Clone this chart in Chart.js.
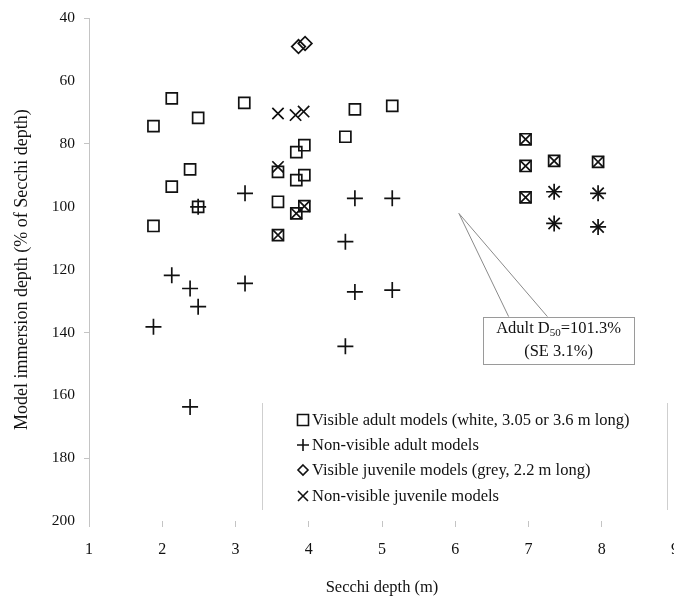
<!DOCTYPE html>
<html>
<head>
<meta charset="utf-8">
<script src="https://cdn.jsdelivr.net/npm/chart.js@4/dist/chart.umd.min.js"></script>
<style>
  html, body { margin: 0; padding: 0; background: #fff; overflow: hidden; }
  #wrap { width: 700px; height: 596px; }
</style>
</head>
<body>
<div id="wrap"><canvas id="chart" width="700" height="596"></canvas></div>
<script>
"use strict";

// Secchi depth (m) vs model immersion depth (% of Secchi depth)
const visibleAdultX = [1.88, 1.88, 2.13, 2.13, 2.38, 2.49, 2.49, 3.12, 3.58, 3.58, 3.58, 3.83, 3.94, 3.83, 3.94, 3.83, 3.94, 4.50, 4.63, 5.14, 6.96, 6.96, 6.96, 7.35, 7.95];
const visibleAdultY = [74.3, 106.1, 65.5, 93.6, 88.1, 71.7, 100.0, 66.9, 88.9, 98.4, 109.0, 82.6, 80.4, 91.5, 89.9, 102.1, 99.8, 77.7, 69.0, 67.9, 78.5, 87.0, 97.0, 85.4, 85.7];

const nonVisibleAdultX = [2.49, 3.13, 4.63, 5.14, 4.50, 2.13, 2.38, 3.13, 2.49, 1.88, 4.63, 5.14, 4.50, 2.38, 7.35, 7.95, 7.35, 7.95];
const nonVisibleAdultY = [100.0, 95.7, 97.3, 97.3, 111.1, 121.8, 126.0, 124.4, 131.8, 138.2, 127.1, 126.5, 144.4, 163.7, 95.2, 95.7, 105.3, 106.4];

const visibleJuvenileX = [3.86, 3.95];
const visibleJuvenileY = [49.0, 48.0];

const nonVisibleJuvenileX = [3.58, 3.82, 3.93, 3.58, 3.58, 3.83, 3.94, 6.96, 6.96, 6.96, 7.35, 7.95, 7.35, 7.95, 7.35, 7.95];
const nonVisibleJuvenileY = [70.3, 70.8, 69.7, 87.3, 109.0, 102.1, 99.8, 78.5, 87.0, 97.0, 85.4, 85.7, 95.2, 95.7, 105.3, 106.4];

const seriesLabels = [
  "Visible adult models (white, 3.05 or 3.6 m long)",
  "Non-visible adult models",
  "Visible juvenile models (grey, 2.2 m long)",
  "Non-visible juvenile models",
];
const seriesStyles = ["rect", "cross", "rectRot", "crossRot"];

const xTitle = "Secchi depth (m)";
const yTitle = "Model immersion depth (% of Secchi depth)";
const calloutLine1 = ["Adult D", "50", "=101.3%"];
const calloutLine2 = "(SE 3.1%)";
// callout pointer tip and box, in data units
const calloutTip = [6.05, 102.1];
const calloutBox = { x0: 6.38, x1: 8.44, y0: 135.0, y1: 150.1, base0: 6.73, base1: 7.26 };

const SERIF = "'Liberation Serif', 'Times New Roman', serif";
const AXIS_GREY = "#c4c4c4";

const pts = (xs, ys) => xs.map((x, i) => ({ x, y: ys[i] }));

function legendIcon(ctx, style, x, y) {
  ctx.beginPath();
  if (style === "rect") {
    ctx.rect(x - 5.5, y - 5.5, 11, 11);
  } else if (style === "cross") {
    ctx.moveTo(x - 6, y); ctx.lineTo(x + 6, y);
    ctx.moveTo(x, y - 6); ctx.lineTo(x, y + 6);
  } else if (style === "rectRot") {
    ctx.moveTo(x, y - 5); ctx.lineTo(x + 5, y); ctx.lineTo(x, y + 5); ctx.lineTo(x - 5, y); ctx.closePath();
  } else {
    ctx.moveTo(x - 5, y - 5); ctx.lineTo(x + 5, y + 5);
    ctx.moveTo(x + 5, y - 5); ctx.lineTo(x - 5, y + 5);
  }
  ctx.stroke();
}

// callout + in-plot legend
const overlay = {
  id: "overlay",
  afterDraw(chart) {
    const { ctx, scales: { x, y } } = chart;
    ctx.save();

    // callout pointer
    const tx = x.getPixelForValue(calloutTip[0]), ty = y.getPixelForValue(calloutTip[1]);
    const bx0 = x.getPixelForValue(calloutBox.x0), bx1 = x.getPixelForValue(calloutBox.x1);
    const by0 = y.getPixelForValue(calloutBox.y0), by1 = y.getPixelForValue(calloutBox.y1);
    ctx.strokeStyle = "#8a8a8a"; ctx.lineWidth = 1;
    ctx.beginPath();
    ctx.moveTo(x.getPixelForValue(calloutBox.base0), by0); ctx.lineTo(tx, ty);
    ctx.lineTo(x.getPixelForValue(calloutBox.base1), by0);
    ctx.stroke();
    ctx.fillStyle = "#fff";
    ctx.fillRect(bx0, by0, bx1 - bx0, by1 - by0);
    ctx.strokeStyle = "#9a9a9a";
    ctx.strokeRect(Math.round(bx0) + 0.5, Math.round(by0) + 0.5, Math.round(bx1 - bx0), Math.round(by1 - by0));

    // callout text (with subscript)
    ctx.fillStyle = "#111"; ctx.textBaseline = "middle";
    const big = "16.5px " + SERIF, small = "11px " + SERIF;
    ctx.font = big; const w0 = ctx.measureText(calloutLine1[0]).width, w2 = ctx.measureText(calloutLine1[2]).width;
    ctx.font = small; const w1 = ctx.measureText(calloutLine1[1]).width;
    const cx = (bx0 + bx1) / 2;
    let sx = cx - (w0 + w1 + w2) / 2;
    const l1 = by0 + 12, l2 = by0 + 35;
    ctx.textAlign = "left";
    ctx.font = big; ctx.fillText(calloutLine1[0], sx, l1); sx += w0;
    ctx.font = small; ctx.fillText(calloutLine1[1], sx, l1 + 4); sx += w1;
    ctx.font = big; ctx.fillText(calloutLine1[2], sx, l1);
    ctx.textAlign = "center";
    ctx.fillText(calloutLine2, cx, l2);

    // legend: side rules, markers, labels
    ctx.strokeStyle = "#cfcfcf"; ctx.lineWidth = 1;
    ctx.beginPath();
    ctx.moveTo(262.5, 403); ctx.lineTo(262.5, 510);
    ctx.moveTo(667.5, 403); ctx.lineTo(667.5, 510);
    ctx.stroke();
    const rows = [420, 445, 470, 496];
    ctx.textAlign = "left"; ctx.font = big;
    seriesLabels.forEach((lab, i) => {
      ctx.strokeStyle = "#111"; ctx.lineWidth = 1.6;
      legendIcon(ctx, seriesStyles[i], 303, rows[i]);
      ctx.fillStyle = "#111";
      ctx.fillText(lab, 312, rows[i] + 1);
    });
    ctx.restore();
  },
};

const common = { borderColor: "#111", backgroundColor: "rgba(0,0,0,0)", borderWidth: 1.7, showLine: false };

new Chart(document.getElementById("chart"), {
  type: "scatter",
  data: {
    datasets: [
      { ...common, label: seriesLabels[0], data: pts(visibleAdultX, visibleAdultY), pointStyle: "rect", pointRadius: 7.8, pointHoverRadius: 7.8 },
      { ...common, label: seriesLabels[1], data: pts(nonVisibleAdultX, nonVisibleAdultY), pointStyle: "cross", pointRadius: 8, pointHoverRadius: 8 },
      { ...common, label: seriesLabels[2], data: pts(visibleJuvenileX, visibleJuvenileY), pointStyle: "rectRot", pointRadius: 6.8, pointHoverRadius: 6.8 },
      { ...common, label: seriesLabels[3], data: pts(nonVisibleJuvenileX, nonVisibleJuvenileY), pointStyle: "crossRot", pointRadius: 8, pointHoverRadius: 8 },
    ],
  },
  plugins: [overlay],
  options: {
    responsive: false, animation: false,
    layout: { padding: { top: 18, right: 25, left: 0, bottom: 0 } },
    plugins: { legend: { display: false }, tooltip: { enabled: false } },
    scales: {
      x: {
        type: "linear", min: 1, max: 9,
        afterFit: (a) => { a.height = 75; },
        ticks: { stepSize: 1, color: "#111", padding: 13, font: { family: SERIF, size: 16 } },
        grid: { drawOnChartArea: false, drawTicks: true, tickLength: 6, tickColor: AXIS_GREY },
        border: { display: false },
        title: { display: true, text: xTitle, color: "#111", padding: 0, font: { family: SERIF, size: 16.5, lineHeight: 1 } },
      },
      y: {
        type: "linear", min: 40, max: 200, reverse: true,
        afterFit: (a) => { a.width = 89; },
        ticks: { stepSize: 20, color: "#111", padding: 9, font: { family: SERIF, size: 15.5 } },
        grid: {
          drawOnChartArea: false, drawTicks: true, tickLength: 5,
          tickColor: (c) => ([40, 80, 140, 180].includes(c.tick && c.tick.value) ? AXIS_GREY : "rgba(0,0,0,0)"),
        },
        border: { display: true, color: AXIS_GREY, width: 1 },
        title: { display: true, text: yTitle, color: "#111", padding: { top: 11, bottom: 0 }, font: { family: SERIF, size: 18 } },
      },
    },
  },
});
</script>
</body>
</html>
